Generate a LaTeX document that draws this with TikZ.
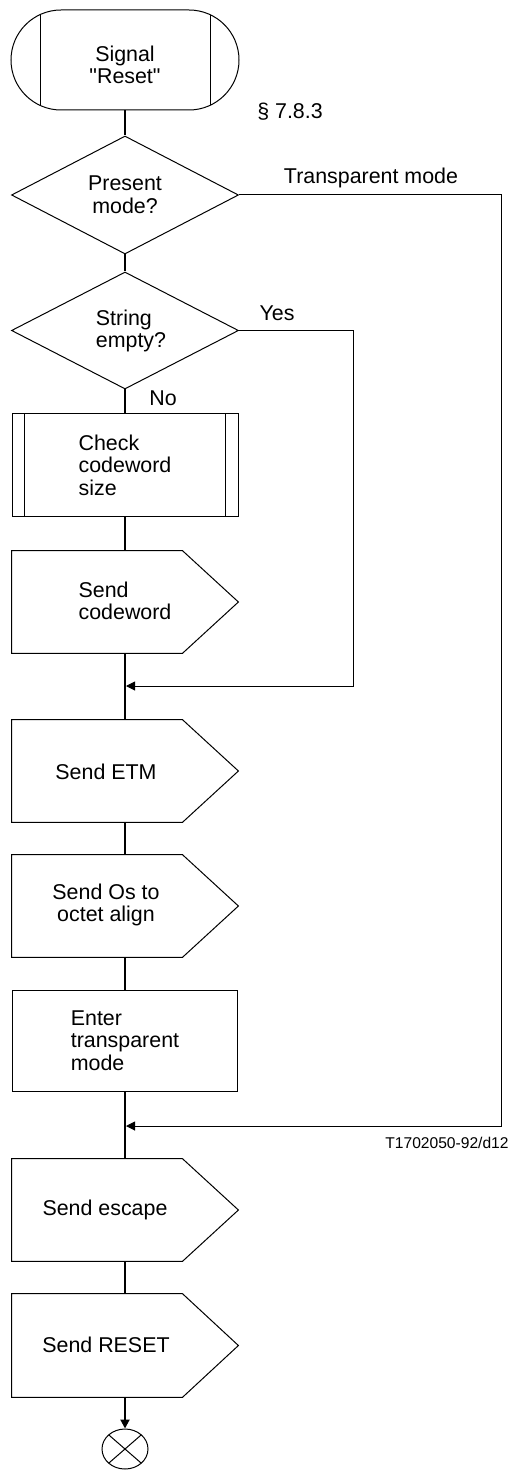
\documentclass[tikz,border=0pt]{standalone}
\usepackage{fontspec}
\setmainfont{Liberation Sans}[Ligatures=TeXOff]
\usetikzlibrary{shapes.geometric, arrows.meta}
\begin{document}
\begin{tikzpicture}[x=0.5pt,y=-0.5pt,
  font=\fontsize{10.7}{11.3}\selectfont,
  outline/.style={draw, line width=0.5pt},
  flow/.style={line width=1pt},
  side/.style={line width=0.5pt},
  tip/.style={-{Triangle[length=4.5pt,width=4.5pt]}},
  txt/.style={inner sep=0pt, align=center},
  ltxt/.style={inner sep=0pt, align=left},
  sendbox/.style={minimum width=113pt, minimum height=51pt, inner sep=0pt},
  dec/.style={outline, diamond, minimum width=113.5pt, minimum height=59pt, inner sep=0pt, align=center}
]
\useasboundingbox (0,0) rectangle (528,1470);

% start
\node[outline, rounded corners=25pt, minimum width=114pt, minimum height=50pt, inner sep=0pt,
  path picture={
    \draw[line width=0.5pt] ([xshift=-42.5pt]path picture bounding box.north) -- ([xshift=-42.5pt]path picture bounding box.south);
    \draw[line width=0.5pt] ([xshift=42.5pt]path picture bounding box.north) -- ([xshift=42.5pt]path picture bounding box.south);
  }] (start) at (125,60) {};
\node[txt] (startt) at (125,65) {Signal\\"Reset"};
\node[txt] (sec) at (290,112) {§ 7.8.3};

% decisions
\node[dec] (d1) at (125,195) {Present\\mode?};
\node[dec, minimum height=58.5pt] (d2) at (125,330.5) {};
\node[ltxt] (d2t) at (131,331) {String\\empty?};

% check codeword size
\node[outline, minimum width=113pt, minimum height=51pt, inner sep=0pt, align=left] (check) at (125,465) {Check\\codeword\\size};
\draw[line width=0.5pt] ([xshift=6.5pt]check.north west) -- ([xshift=6.5pt]check.south west);
\draw[line width=0.8pt] ([xshift=-6.5pt]check.north east) -- ([xshift=-6.5pt]check.south east);

% send boxes
\node[sendbox] (sc) at (125,602) {};
\node[ltxt] (sct) at (125,601) {Send\\codeword};
\node[sendbox] (etm) at (125,771) {};
\node[txt] (etmt) at (106,772) {Send ETM};
\node[sendbox] (os) at (125,906) {};
\node[txt] (ost) at (106,905) {Send Os to\\octet align};
\node[outline, minimum width=112.5pt, minimum height=50.5pt, inner sep=0pt, align=left] (enter) at (125,1040.5) {Enter\\transparent\\mode};
\node[sendbox] (esc) at (125,1210) {};
\node[txt] (esct) at (105,1210) {Send escape};
\node[sendbox, minimum height=51.5pt] (rst) at (125,1345.5) {};
\node[txt] (rstt) at (106,1345) {Send RESET};

\foreach \n in {sc,etm,os,esc,rst}{
  \draw[line width=0.5pt] (\n.north west) -- ([xshift=-28pt]\n.north east) -- (\n.east)
    -- ([xshift=-28pt]\n.south east) -- (\n.south west) -- cycle;
}

% end
\node[outline, ellipse, minimum width=23pt, minimum height=20pt, inner sep=0pt,
  path picture={
    \draw[line width=0.5pt] (path picture bounding box.north west) -- (path picture bounding box.south east);
    \draw[line width=0.5pt] (path picture bounding box.south west) -- (path picture bounding box.north east);
  }] (stop) at (125,1449) {};

% labels
\node[txt] (ltm) at (371,178) {Transparent mode};
\node[txt] (lyes) at (277,313) {Yes};
\node[txt] (lno) at (163,398) {No};
\node[txt, font=\fontsize{7.8}{9}\selectfont] (ref) at (447,1143) {T1702050-92/d12};

% connectors
\coordinate (m1) at (125,686);
\coordinate (y1) at (353,686);
\coordinate (m2) at (125,1126);
\coordinate (t1) at (501,1126);

\draw[flow] (start.south) -- (d1.north);
\draw[flow] (d1.south) -- (d2.north);
\draw[flow] (d2.south) -- (check.north);
\draw[flow] (check.south) -- (sc.north);
\draw[flow] (sc.south) -- (etm.north);
\draw[flow] (etm.south) -- (os.north);
\draw[flow] (os.south) -- (enter.north);
\draw[flow] (enter.south) -- (esc.north);
\draw[flow] (esc.south) -- (rst.north);
\draw[flow, tip] (rst.south) -- (stop.north);

\draw[side, tip, shorten >=0.5pt] (d2.east) -| (y1) -- (m1);
\draw[side, tip, shorten >=0.5pt] (d1.east) -| (t1) -- (m2);
\end{tikzpicture}
\end{document}
